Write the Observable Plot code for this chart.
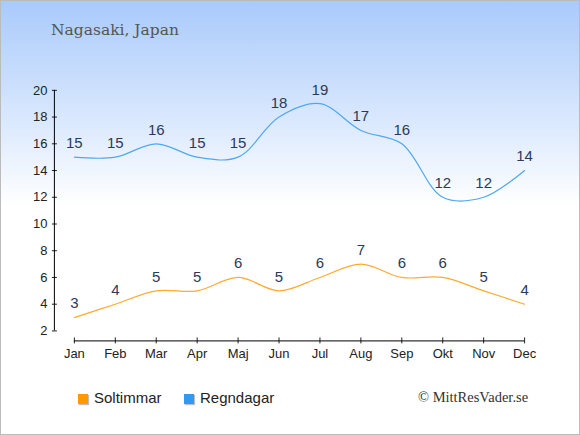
<!DOCTYPE html>
<html>
<head>
<meta charset="utf-8">
<script src="https://cdn.jsdelivr.net/npm/d3@7"></script>
<script src="https://cdn.jsdelivr.net/npm/@observablehq/plot@0.6"></script>
<style>
  html, body { margin: 0; padding: 0; }
  body { width: 580px; height: 435px; overflow: hidden; }
  #wrap {
    position: relative; width: 578px; height: 433px;
    border: 1px solid #bbbbbb;
    background: linear-gradient(to bottom, #a9cafb 0px, #d6e6fd 110px, #ffffff 205px, #ffffff 100%);
  }
  #chart { position: absolute; left: -1px; top: -1px; }
  #title { position: absolute; left: 50px; top: 20px; font-family: "DejaVu Serif", "Liberation Serif", serif; font-size: 15.5px; color: #555; }
  .leg { position: absolute; top: 388px; font-family: "Liberation Sans", Arial, sans-serif; font-size: 15px; color: #222; }
  .sw { position: absolute; width: 10px; height: 10px; top: 393px; box-shadow: 1px 1px 1px rgba(0,0,0,0.25); }
  #copy { position: absolute; left: 417px; top: 388px; font-family: "Liberation Serif", "DejaVu Serif", serif; font-size: 14.5px; color: #333; }
</style>
</head>
<body>
<div id="wrap">
  <div id="chart"></div>
  <div id="title">Nagasaki, Japan</div>
  <div class="sw" style="left:77px;background:#ff9900"></div>
  <div class="leg" style="left:93px">Soltimmar</div>
  <div class="sw" style="left:183px;background:#3399ee"></div>
  <div class="leg" style="left:199px">Regndagar</div>
  <div id="copy">© MittResVader.se</div>
</div>
<script>
const months = ["Jan","Feb","Mar","Apr","Maj","Jun","Jul","Aug","Sep","Okt","Nov","Dec"];
const soltimmar = [3,4,5,5,6,5,6,7,6,6,5,4];
const regndagar = [15,15,16,15,15,18,19,17,16,12,12,14];
const yTicks = [2,4,6,8,10,12,14,16,18,20];

const sun = months.map((m, i) => ({month: m, value: soltimmar[i]}));
const rain = months.map((m, i) => ({month: m, value: regndagar[i]}));

const labelStyle = {fontSize: 15, fill: "#2a3a5a", fontFamily: "Liberation Sans, Arial, sans-serif"};

const plot = Plot.plot({
  width: 580,
  height: 435,
  marginLeft: 74,
  marginRight: 55,
  marginTop: 90,
  marginBottom: 104,
  style: {background: "transparent", fontFamily: "Liberation Sans, Arial, sans-serif", fontSize: "13px", color: "#222"},
  x: {type: "point", domain: months, padding: 0},
  y: {domain: [2, 20]},
  marks: [
    Plot.axisY({ticks: yTicks, tickSize: 5, dx: -17, tickPadding: 5, label: null, fontSize: 13}),
    Plot.axisX({tickSize: 6, dy: 7, tickPadding: 5, label: null, fontSize: 13}),
    Plot.line(sun, {x: "month", y: "value", stroke: "#ffab2e", strokeWidth: 1.2, curve: "catmull-rom"}),
    Plot.line(rain, {x: "month", y: "value", stroke: "#4ea8ef", strokeWidth: 1.2, curve: "catmull-rom"}),
    Plot.text(sun, {x: "month", y: "value", text: "value", dy: -14, ...labelStyle}),
    Plot.text(rain, {x: "month", y: "value", text: "value", dy: -14, ...labelStyle})
  ]
});

// axis lines drawn from the scales
const xs = plot.scale("x").range;
const ys = plot.scale("y").range;
const svg = d3.select(plot);
svg.append("line")
  .attr("x1", 54.5).attr("x2", 54.5)
  .attr("y1", Math.min(...ys)).attr("y2", Math.max(...ys))
  .attr("stroke", "#000");
svg.append("line")
  .attr("x1", Math.min(...xs)).attr("x2", Math.max(...xs))
  .attr("y1", Math.max(...ys) + 10.5).attr("y2", Math.max(...ys) + 10.5)
  .attr("stroke", "#000");

document.getElementById("chart").appendChild(plot);
</script>
</body>
</html>
